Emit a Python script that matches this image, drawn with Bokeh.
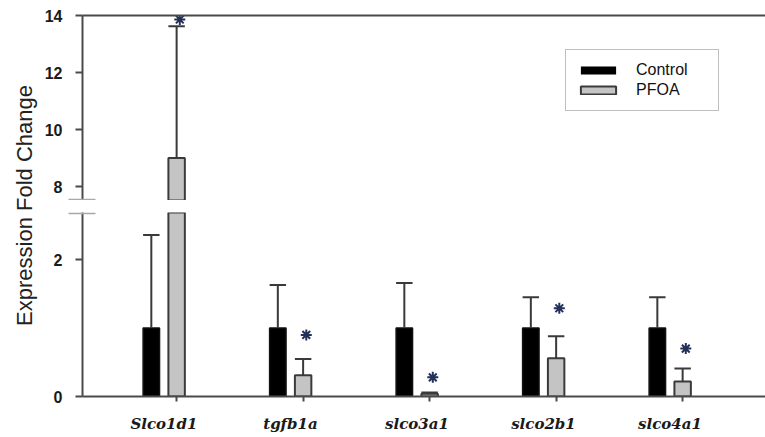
import numpy as np
from bokeh.plotting import figure
from bokeh.layouts import row, column
from bokeh.models import (Range1d, FixedTicker, LinearAxis, Legend, LegendItem,
                          ColumnDataSource, CDSView, BooleanFilter)
from bokeh.core.properties import value
from bokeh.embed import file_html
from bokeh.resources import INLINE

# ---- data ----
genes = ["Slco1d1", "tgfb1a", "slco3a1", "slco2b1", "slco4a1"]
control_mean = [1.0, 1.0, 1.0, 1.0, 1.0]
control_err_top = [2.36, 1.63, 1.66, 1.45, 1.45]
pfoa_mean = [9.0, 0.31, 0.04, 0.56, 0.22]
pfoa_err_top = [13.62, 0.55, 0.06, 0.88, 0.41]
star_y = [13.86, 0.90, 0.28, 1.29, 0.70]
y_ticks_low = [0, 2]
y_ticks_high = [8, 10, 12, 14]
low_max = 2.69   # top of lower axis segment
high_min = 7.51  # bottom of upper axis segment

# ---- styling ----
AX = "#4a4a4a"
BAR_W = 0.13
OFF = 0.1
gx = np.arange(len(genes))
ctrl_x = gx - OFF
pfoa_x = gx + OFF
x_range = Range1d(-0.644, 4.755)

c_mean = np.array(control_mean)
c_err = np.array(control_err_top)
p_mean = np.array(pfoa_mean)
p_err = np.array(pfoa_err_top)
s_y = np.array(star_y)


def style_left_axis(ax):
    ax.axis_line_width = 2
    ax.axis_line_color = AX
    ax.major_tick_line_width = 2
    ax.major_tick_line_color = AX
    ax.major_tick_out = 7
    ax.major_tick_in = 0
    ax.minor_tick_out = 14
    ax.minor_tick_in = 13
    ax.minor_tick_line_color = "#a8a8a8"
    ax.minor_tick_line_width = 1.5
    ax.major_label_text_font = "Liberation Sans"
    ax.major_label_text_font_style = "bold"
    ax.major_label_text_font_size = "16px"
    ax.major_label_text_color = "#1a1a1a"
    ax.major_label_standoff = 6


def panel(y0, y1, height, top_b, bottom_b, ticks, brk, keep, upper):
    """keep(v) -> boolean mask of values that belong to this axis segment"""
    p = figure(width=725, height=height, x_range=x_range, y_range=Range1d(y0, y1),
               output_backend="svg", toolbar_location=None,
               x_axis_location=None, y_axis_location=None,
               min_border_left=42, min_border_right=0,
               min_border_top=top_b, min_border_bottom=bottom_b,
               outline_line_color=None, background_fill_color="white",
               border_fill_color="white")
    p.grid.visible = False
    ax = LinearAxis(ticker=FixedTicker(ticks=ticks, minor_ticks=[brk]))
    style_left_axis(ax)
    p.add_layout(ax, "left")

    csrc = ColumnDataSource(dict(x=ctrl_x, top=c_mean, err=c_err,
                                 cl=ctrl_x - BAR_W / 2, cr=ctrl_x + BAR_W / 2))
    psrc = ColumnDataSource(dict(x=pfoa_x, top=p_mean, err=p_err,
                                 cl=pfoa_x - BAR_W / 2, cr=pfoa_x + BAR_W / 2,
                                 sx=pfoa_x + 0.025, sy=s_y))
    # control bars: in the upper segment all are off-scale, so no outline there
    rc = p.vbar(x="x", top="top", bottom=0, width=BAR_W, source=csrc,
                fill_color="black",
                line_color=None if upper else "#111111", line_width=1.5)
    rp = p.vbar(x="x", top="top", bottom=0, width=BAR_W, source=psrc,
                view=CDSView(filter=BooleanFilter(list(keep(p_mean)))),
                fill_color="#c4c4c4", line_color="#3a3a3a", line_width=2)
    # error bars (upper only)
    for src, err in ((csrc, c_err), (psrc, p_err)):
        v = CDSView(filter=BooleanFilter(list(keep(err))))
        p.segment(x0="x", y0="top", x1="x", y1="err", source=src, view=v,
                  line_color="#3a3a3a", line_width=2)
        v2 = CDSView(filter=BooleanFilter(list(keep(err))))
        p.segment(x0="cl", y0="err", x1="cr", y1="err", source=src, view=v2,
                  line_color="#3a3a3a", line_width=2)
    p.scatter(x="sx", y="sy", source=psrc, marker="asterisk", size=11,
              view=CDSView(filter=BooleanFilter(list(keep(s_y)))),
              line_color="#22305a", line_width=2)
    return p, rc, rp


top, rc_t, rp_t = panel(high_min, 14, 200, 15, 0, y_ticks_high,
                        high_min + 1 / 28.5, lambda v: v > high_min, True)
bot, rc_b, rp_b = panel(0, low_max, 225, 0, 41, y_ticks_low,
                        low_max - 1 / 68.5, lambda v: v > -1, False)

# top frame line
above = LinearAxis(ticker=FixedTicker(ticks=[]), axis_line_width=2, axis_line_color=AX,
                   major_tick_out=0, major_tick_in=0, major_label_standoff=0,
                   major_label_text_font_size="0px")
top.add_layout(above, "above")

# bottom category axis
xax = LinearAxis(ticker=FixedTicker(ticks=list(gx), minor_ticks=list(pfoa_x)))
xax.major_label_overrides = {int(i): g for i, g in zip(gx, genes)}
xax.axis_line_width = 2
xax.axis_line_color = AX
xax.major_tick_line_color = None
xax.major_tick_out = 5
xax.major_tick_in = 0
xax.minor_tick_out = 5
xax.minor_tick_in = 0
xax.minor_tick_line_width = 2
xax.minor_tick_line_color = AX
xax.major_label_standoff = 13
xax.major_label_text_font = "DejaVu Serif"
xax.major_label_text_font_style = "bold italic"
xax.major_label_text_font_size = "15px"
xax.major_label_text_color = "#1a1a1a"
bot.add_layout(xax, "below")

legend = Legend(items=[LegendItem(label="Control", renderers=[rc_t], index=0),
                       LegendItem(label="PFOA", renderers=[rp_t], index=0)],
                location=(483, 89), orientation="vertical",
                padding=10, spacing=0, margin=0,
                glyph_width=44, glyph_height=10, label_height=20, label_width=72,
                label_standoff=16,
                label_text_font="Liberation Sans", label_text_font_size="16px",
                label_text_color="#111111",
                border_line_color="#808080", border_line_width=1.5,
                background_fill_color="white", background_fill_alpha=1)
top.add_layout(legend)

# y-axis title
tf = figure(width=40, height=437, x_range=Range1d(0, 40), y_range=Range1d(0, 437),
            output_backend="svg", toolbar_location=None,
            x_axis_location=None, y_axis_location=None,
            min_border=0, outline_line_color=None)
tf.grid.visible = False
tf.text(x=[24], y=[232], text=["Expression Fold Change"], angle=np.pi / 2,
        text_align="center", text_baseline="middle",
        text_font=value("Liberation Sans"), text_font_size="22px", text_color="#222222")

layout = row(tf, column(top, bot, spacing=12), spacing=0)
open("out.html", "w").write(file_html(layout, INLINE))
